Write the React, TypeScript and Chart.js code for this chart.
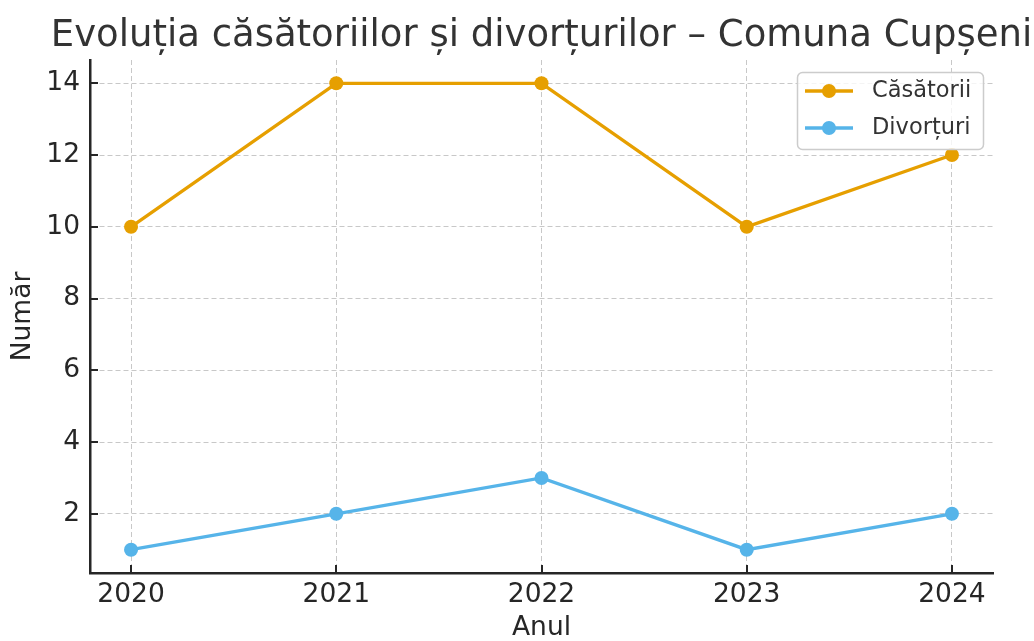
import React, { useEffect, useRef } from "react";
import { Chart, registerables } from "chart.js";
Chart.register(...registerables);

const years = [2020, 2021, 2022, 2023, 2024];
const casatorii = [10, 14, 14, 10, 12];
const divorturi = [1, 2, 3, 1, 2];
const yTickValues = [2, 4, 6, 8, 10, 12, 14];
const seriesLabels = ["Căsătorii", "Divorțuri"];
const seriesColors = ["#E69F00", "#56B4E9"];
const titleText = "Evoluția căsătoriilor și divorțurilor – Comuna Cupșeni";
const xTitle = "Anul";
const yTitle = "Număr";

const FONT = "'DejaVu Sans', 'Liberation Sans', sans-serif";

const titlePlugin = {
  id: "axesTitle",
  afterDraw(chart: any) {
    const { ctx, chartArea } = chart;
    ctx.save();
    ctx.fillStyle = "#333333";
    ctx.font = `37px ${FONT}`;
    ctx.textAlign = "center";
    ctx.textBaseline = "alphabetic";
    ctx.fillText(titleText, (chartArea.left + chartArea.right) / 2, 46);
    ctx.restore();
  },
};

const inwardTicks = {
  id: "inwardTicks",
  afterDraw(chart: any) {
    const { ctx, chartArea, scales } = chart;
    ctx.save();
    ctx.strokeStyle = "#262626";
    ctx.lineWidth = 2;
    const len = 8;
    scales.x.ticks.forEach((t: any) => {
      const px = Math.round(scales.x.getPixelForValue(t.value));
      ctx.beginPath();
      ctx.moveTo(px, chartArea.bottom);
      ctx.lineTo(px, chartArea.bottom - len);
      ctx.stroke();
    });
    scales.y.ticks.forEach((t: any) => {
      const py = Math.round(scales.y.getPixelForValue(t.value));
      ctx.beginPath();
      ctx.moveTo(chartArea.left, py);
      ctx.lineTo(chartArea.left + len, py);
      ctx.stroke();
    });
    ctx.restore();
  },
};

const customLegend = {
  id: "customLegend",
  afterDraw(chart: any) {
    const { ctx, chartArea } = chart;
    const w = 186;
    const h = 77;
    const x = chartArea.right - 10 - w;
    const y = chartArea.top + 12;
    ctx.save();
    ctx.beginPath();
    (ctx as any).roundRect(x + 0.5, y + 0.5, w, h, 5);
    ctx.fillStyle = "rgba(255,255,255,0.8)";
    ctx.fill();
    ctx.strokeStyle = "#cccccc";
    ctx.lineWidth = 1.5;
    ctx.stroke();
    chart.data.datasets.forEach((ds: any, i: number) => {
      const cy = y + 19 + i * 37;
      ctx.strokeStyle = ds.borderColor;
      ctx.lineWidth = 3.3;
      ctx.beginPath();
      ctx.moveTo(x + 8, cy);
      ctx.lineTo(x + 56, cy);
      ctx.stroke();
      ctx.fillStyle = ds.backgroundColor;
      ctx.beginPath();
      ctx.arc(x + 32, cy, 7, 0, Math.PI * 2);
      ctx.fill();
      ctx.fillStyle = "#333333";
      ctx.font = `22.5px ${FONT}`;
      ctx.textBaseline = "middle";
      ctx.textAlign = "left";
      ctx.fillText(ds.label, x + 75, cy);
    });
    ctx.restore();
  },
};

export default function App() {
  const ref = useRef<HTMLCanvasElement>(null);
  useEffect(() => {
    if (!ref.current) return;
    const makeDs = (label: string, vals: number[], color: string) => ({
      label,
      data: years.map((yr, i) => ({ x: yr, y: vals[i] })),
      borderColor: color,
      backgroundColor: color,
      borderWidth: 3.3,
      pointRadius: 7,
      pointBorderWidth: 0,
      pointBackgroundColor: color,
      tension: 0,
    });
    const chart = new Chart(ref.current, {
      type: "line",
      data: {
        datasets: [
          makeDs(seriesLabels[0], casatorii, seriesColors[0]),
          makeDs(seriesLabels[1], divorturi, seriesColors[1]),
        ],
      },
      options: {
        responsive: false,
        animation: false,
        devicePixelRatio: 1,
        layout: { padding: { left: 0, right: 41, top: 60, bottom: 0 } },
        plugins: {
          legend: { display: false },
          tooltip: { enabled: false },
          title: { display: false },
        },
        scales: {
          x: {
            type: "linear",
            min: 2019.8,
            max: 2024.2,
            afterBuildTicks: (s: any) => {
              s.ticks = years.map((v) => ({ value: v }));
            },
            afterFit: (s: any) => {
              s.height = 68;
            },
            ticks: {
              color: "#262626",
              font: { family: FONT, size: 26.5 },
              padding: 6,
              maxRotation: 0,
              autoSkip: false,
              callback: (v: any) => String(v),
            },
            grid: { color: "#c8c8c8", lineWidth: 1, drawTicks: false },
            border: { display: true, color: "#262626", width: 2.5, dash: [5, 3] },
            title: {
              display: true,
              text: xTitle,
              color: "#262626",
              font: { family: FONT, size: 26.5, lineHeight: 1 },
              padding: { top: 0, bottom: 0 },
            },
          },
          y: {
            type: "linear",
            min: 0.35,
            max: 14.65,
            afterBuildTicks: (s: any) => {
              s.ticks = yTickValues.map((v) => ({ value: v }));
            },
            afterFit: (s: any) => {
              s.width = 90;
            },
            ticks: {
              color: "#262626",
              font: { family: FONT, size: 26.5 },
              padding: 10,
              callback: (v: any) => String(v),
            },
            grid: { color: "#c8c8c8", lineWidth: 1, drawTicks: false },
            border: { display: true, color: "#262626", width: 2.5, dash: [5, 3] },
            title: {
              display: true,
              text: yTitle,
              color: "#262626",
              font: { family: FONT, size: 26.5, lineHeight: 1 },
              padding: { top: 10, bottom: 0 },
            },
          },
        },
      },
      plugins: [titlePlugin, inwardTicks, customLegend],
    } as any);
    return () => chart.destroy();
  }, []);
  return (
    <div style={{ position: "absolute", left: 0, top: 0, width: 1034, height: 641, background: "#fff" }}>
      <canvas ref={ref} width={1034} height={641} style={{ display: "block", width: 1034, height: 641 }} />
    </div>
  );
}
